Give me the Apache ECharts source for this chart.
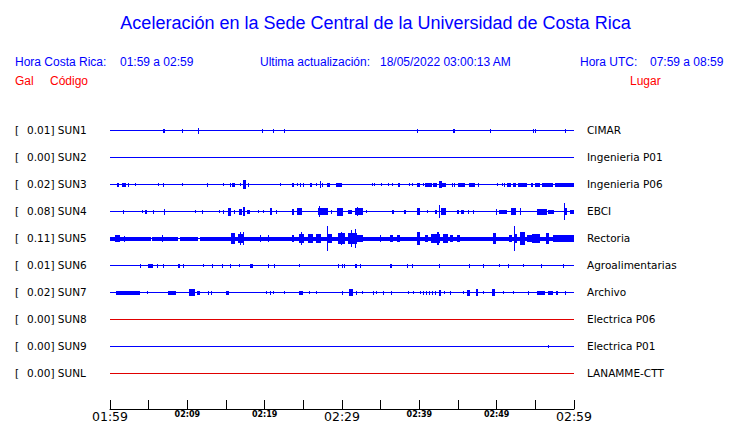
<!DOCTYPE html>
<html><head><meta charset="utf-8">
<script src="https://cdn.jsdelivr.net/npm/echarts@6/dist/echarts.min.js"></script>
<style>html,body{margin:0;padding:0;background:#fff}#c{width:740px;height:423px}</style>
</head><body><div id="c"></div>
<script>
// ---- data ----
const titleText = 'Aceleración en la Sede Central de la Universidad de Costa Rica';
const localRange = '01:59 a 02:59';
const utcRange = '07:59 a 08:59';
const updated = '18/05/2022 03:00:13 AM';
const codes = ['SUN1','SUN2','SUN3','SUN4','SUN5','SUN6','SUN7','SUN8','SUN9','SUNL'];
const galValues = ['0.01','0.00','0.02','0.08','0.11','0.01','0.02','0.00','0.00','0.00'];
const places = ['CIMAR','Ingenieria P01','Ingenieria P06','EBCI','Rectoria','Agroalimentarias','Archivo','Electrica P06','Electrica P01','LANAMME-CTT'];
const tickLabels = ['01:59','02:09','02:19','02:29','02:39','02:49','02:59'];
const spanMinutes = 60;
// events per station: [start minute after 01:59, duration (min), half amplitude (fraction of row)]
const sun1 = [[6.85,0.26,0.06],[9.31,0,0.05],[11.38,0,0.09],[19.65,0,0.05],[21.08,0,0.05],[22.5,0,0.06],[39.7,0,0.05],[44.35,0.26,0.06],[49.13,0,0.06],[54.69,0,0.06],[54.95,0,0.06],[58.83,0,0.05]];
const sun2 = [];
const sun3 = [[0.91,0.3,0.06],[1.55,0.5,0.06],[2.33,0,0.055],[3.23,0,0.04],[6.21,0,0.04],[6.85,0,0.06],[9.31,0,0.04],[12.54,0,0.06],[14.61,0,0.04],[15.52,0,0.06],[15.78,0.4,0.06],[16.81,0,0.04],[17.2,0.4,0.15],[17.84,0,0.055],[21.98,0,0.04],[23.53,0.26,0.06],[24.18,0,0.04],[24.57,0,0.06],[24.95,0,0.06],[25.86,0.26,0.06],[26.64,0,0.04],[27.15,0,0.11],[27.41,0.13,0.06],[28.06,0.4,0.06],[29.22,0.78,0.06],[33.88,0,0.04],[34.14,0,0.04],[35.04,0,0.04],[35.95,0,0.04],[36.46,0,0.04],[37.24,0.26,0.06],[38.66,0,0.04],[39.05,0,0.04],[39.7,0.4,0.06],[40.47,0,0.04],[40.73,0.9,0.06],[41.76,0.5,0.06],[42.54,0.4,0.11],[42.93,0.5,0.06],[44.22,0,0.06],[44.48,0,0.06],[45.0,0.9,0.06],[46.42,0.78,0.06],[47.58,0,0.06],[50.04,0,0.04],[50.69,0,0.04],[50.94,0,0.06],[51.33,0.5,0.06],[52.11,0.4,0.06],[52.75,1.16,0.06],[54.44,0.26,0.06],[54.95,0.65,0.06],[55.86,1.42,0.06],[57.54,2.46,0.06]];
const sun4 = [[1.68,0,0.06],[4.14,0,0.04],[4.53,0.26,0.06],[5.56,0.13,0.06],[6.98,0,0.09],[10.99,0,0.04],[11.9,0,0.06],[14.09,0,0.04],[14.61,0,0.055],[15.26,0.4,0.13],[16.03,0,0.06],[16.68,0.4,0.09],[17.2,0.2,0.15],[17.71,0.4,0.06],[19.14,0,0.04],[19.78,0,0.04],[20.69,0.26,0.11],[21.46,0,0.06],[23.53,0.26,0.09],[24.18,0.65,0.11],[26.89,0.4,0.11],[27.02,0,0.18],[27.28,0.9,0.11],[28.58,0,0.06],[29.35,0.78,0.13],[30.77,0.5,0.06],[31.68,1.03,0.11],[31.94,0,0.15],[33.1,0,0.04],[36.46,0.26,0.06],[38.02,0.26,0.06],[39.7,0.4,0.11],[40.99,0,0.04],[42.02,0.26,0.06],[42.54,0,0.22],[42.8,0.65,0.11],[44.87,0.26,0.06],[45.39,0.4,0.06],[46.29,0,0.06],[46.94,0,0.06],[49.91,0,0.09],[50.3,1.03,0.06],[51.85,0.65,0.11],[53.01,0,0.11],[55.21,1.3,0.09],[56.63,0.78,0.06],[58.7,0,0.3],[58.83,0.26,0.11],[59.48,0.52,0.06]];
const sun5 = [[0,5.3,0.055],[5.43,3.36,0.055],[9.05,2.33,0.055],[11.64,48.36,0.055],[0.65,0.65,0.11],[1.81,0,0.09],[6.72,0,0.11],[15.65,0.52,0.18],[16.55,0.78,0.15],[16.81,0,0.22],[17.2,0,0.22],[19.4,0,0.11],[20.43,0,0.11],[23.53,0.26,0.11],[24.44,0.65,0.15],[24.7,0,0.22],[25.6,0.65,0.15],[26.64,0.65,0.15],[28.06,0,0.44],[28.19,0.52,0.15],[29.48,0.9,0.18],[29.87,0,0.22],[30.77,1.16,0.18],[31.16,0,0.3],[31.68,0,0.33],[31.94,0.78,0.11],[34.91,0,0.11],[36.2,0.4,0.11],[37.11,0.4,0.11],[39.7,0.4,0.22],[40.73,0.4,0.11],[41.51,1.16,0.15],[42.28,0.26,0.22],[43.06,0.65,0.15],[43.96,0.4,0.11],[44.87,0.4,0.11],[49.52,0.4,0.18],[51.59,0.4,0.11],[52.24,0,0.44],[52.37,0.26,0.15],[53.01,0.65,0.22],[53.92,0.65,0.11],[54.57,1.03,0.15],[56.38,0.4,0.18],[57.28,2.72,0.11]];
const sun6 = [[3.88,0.13,0.06],[4.91,0.65,0.06],[6.08,0,0.06],[6.85,0,0.05],[8.79,0.26,0.06],[9.44,0,0.06],[12.03,0,0.04],[13.19,0.13,0.06],[14.48,0,0.06],[15.52,0,0.055],[16.68,0,0.04],[18.1,0.4,0.06],[20.43,0,0.06],[21.21,0,0.06],[24.44,0,0.04],[29.48,0,0.06],[30.0,0,0.06],[30.26,0,0.06],[31.68,0.26,0.06],[32.33,0,0.06],[36.2,0.26,0.06],[38.4,0,0.06],[39.05,0,0.06],[42.54,0,0.055],[46.42,0,0.06],[48.23,0,0.06],[50.3,0,0.04],[51.46,0,0.06],[53.4,0,0.04],[55.73,0,0.06],[58.57,0,0.06]];
const sun7 = [[0.78,3.1,0.055],[4.78,0,0.04],[7.5,1.03,0.055],[10.21,0.78,0.11],[11.25,0.4,0.06],[12.67,0,0.055],[13.06,0,0.055],[15.0,0.4,0.06],[20.17,0,0.04],[20.69,0,0.06],[21.08,0,0.04],[22.5,0,0.04],[24.44,0.52,0.06],[25.73,0,0.04],[26.64,0,0.04],[30.0,0,0.06],[30.9,0.52,0.11],[31.81,0,0.06],[32.59,0,0.04],[34.01,0,0.06],[34.4,0,0.04],[35.3,0,0.06],[36.34,0,0.06],[38.53,0,0.04],[39.18,0,0.04],[40.09,0,0.04],[40.47,0,0.055],[40.86,0,0.055],[41.25,0,0.055],[41.64,0,0.055],[42.02,0,0.06],[42.54,0.26,0.09],[43.19,0,0.04],[43.96,0,0.055],[45.64,0,0.04],[46.16,0.4,0.09],[47.33,0.26,0.11],[48.23,0,0.04],[49.39,0.4,0.11],[50.82,0,0.04],[52.11,0,0.04],[54.05,0,0.06],[55.21,1.0,0.055],[56.63,0.65,0.06],[57.67,0.26,0.06],[58.83,0,0.06]];
const sun8 = [];
const sun9 = [[56.63,0,0.04]];
const sunl = [];
const stationEvents = [sun1,sun2,sun3,sun4,sun5,sun6,sun7,sun8,sun9,sunl];

// ---- styles ----
const BLUE = '#0000ff', RED = '#ff0000';
const traceColors = [BLUE,BLUE,BLUE,BLUE,BLUE,BLUE,BLUE,'#e00000',BLUE,'#e00000'];
const SANS = '"Liberation Sans", Arial, sans-serif';
const DEJA = '"DejaVu Sans", sans-serif';

const burstData = [];
stationEvents.forEach((evs, i) => evs.forEach(e => burstData.push([e[0], i, e[1], e[2]])));
const baseData = codes.map((c, i) => [0, i, spanMinutes]);

function rectFor(api, t, idx, dur, amp) {
  const p0 = api.coord([t, idx]);
  const p1 = api.coord([t + dur, idx]);
  const band = api.size([0, 1])[1];
  const n = Math.round(p0[1]);
  const h = 1 + Math.round(2 * amp * band);
  const top = n - Math.floor((h - 1) / 2);
  const x0 = Math.round(p0[0]);
  const w = Math.max(1, Math.round(p1[0]) - x0);
  return { x: x0, y: top, width: w, height: h };
}

const chart = echarts.init(document.getElementById('c'), null, { renderer: 'svg' });
const txt = (x, y, text, color, size, family, align) => ({
  type: 'text', x: x, y: y, silent: true,
  style: { text: text, fill: color, fontSize: size, fontFamily: family || SANS, align: align || 'left', verticalAlign: 'middle' }
});

chart.setOption({
  animation: false,
  backgroundColor: '#fff',
  graphic: [
    txt(375.5, 22.5, titleText, BLUE, 18, SANS, 'center'),
    txt(15, 61.5, 'Hora Costa Rica:', BLUE, 12),
    txt(120, 61.5, localRange, BLUE, 12),
    txt(260, 61.5, 'Ultima actualización:', BLUE, 12),
    txt(380, 61.5, updated, BLUE, 12),
    txt(580, 61.5, 'Hora UTC:', BLUE, 12),
    txt(650, 61.5, utcRange, BLUE, 12),
    txt(15, 81, 'Gal', RED, 12),
    txt(50, 81, 'Código', RED, 12),
    txt(630, 81, 'Lugar', RED, 12)
  ],
  grid: [
    { left: 110, right: 166, top: 116, height: 270, outerBoundsMode: 'none', containLabel: false },
    { left: 110, right: 166, top: 399, height: 10, outerBoundsMode: 'none', containLabel: false }
  ],
  xAxis: [
    { gridIndex: 0, type: 'value', min: 0, max: spanMinutes, show: false },
    { gridIndex: 1, type: 'value', min: 0, max: spanMinutes, interval: 5, position: 'bottom',
      axisLine: { show: true, lineStyle: { color: '#000', width: 1 } },
      axisTick: { show: true, inside: true, length: 9, lineStyle: { color: '#000', width: 1 } },
      splitLine: { show: false },
      axisLabel: {
        show: true, margin: 1, color: '#000', showMinLabel: true, showMaxLabel: true, verticalAlign: 'top',
        formatter: v => {
          if (v % 10 !== 0) return '';
          const lab = tickLabels[v / 10];
          return v % 30 === 0 ? '{big|' + lab + '}' : '{small|' + lab + '}';
        },
        rich: {
          big: { fontSize: 12.5, lineHeight: 11, fontFamily: DEJA, color: '#000', verticalAlign: 'top' },
          small: { fontSize: 8, lineHeight: 9, fontWeight: 'bold', fontFamily: DEJA, color: '#000', verticalAlign: 'top' }
        }
      }
    }
  ],
  yAxis: [
    { gridIndex: 0, type: 'category', inverse: true, data: codes, position: 'left',
      axisLine: { show: false }, axisTick: { show: false }, splitLine: { show: false },
      axisLabel: { margin: 95, align: 'left', interval: 0,
        formatter: (v, i) => '{a|[}{b|' + galValues[i] + '] ' + v + '}',
        rich: { a: { width: 12, fontSize: 10.5, fontFamily: DEJA, color: '#000' },
                b: { fontSize: 10.5, fontFamily: DEJA, color: '#000' } } } },
    { gridIndex: 0, type: 'category', inverse: true, data: places, position: 'right',
      axisLine: { show: false }, axisTick: { show: false }, splitLine: { show: false },
      axisLabel: { margin: 13, align: 'left', interval: 0, fontSize: 10.5, fontFamily: DEJA, color: '#000' } },
    { gridIndex: 1, type: 'value', show: false }
  ],
  series: [
    { type: 'custom', xAxisIndex: 0, yAxisIndex: 0, data: baseData, encode: { x: 0, y: 1 },
      renderItem: (params, api) => {
        const idx = api.value(1);
        return { type: 'rect', shape: rectFor(api, api.value(0), idx, api.value(2), 0), style: { fill: traceColors[idx] } };
      } },
    { type: 'custom', xAxisIndex: 0, yAxisIndex: 0, data: burstData, encode: { x: 0, y: 1 },
      renderItem: (params, api) => {
        const idx = api.value(1);
        return { type: 'rect', shape: rectFor(api, api.value(0), idx, api.value(2), api.value(3)), style: { fill: traceColors[idx] } };
      } }
  ]
});
</script>
</body></html>
